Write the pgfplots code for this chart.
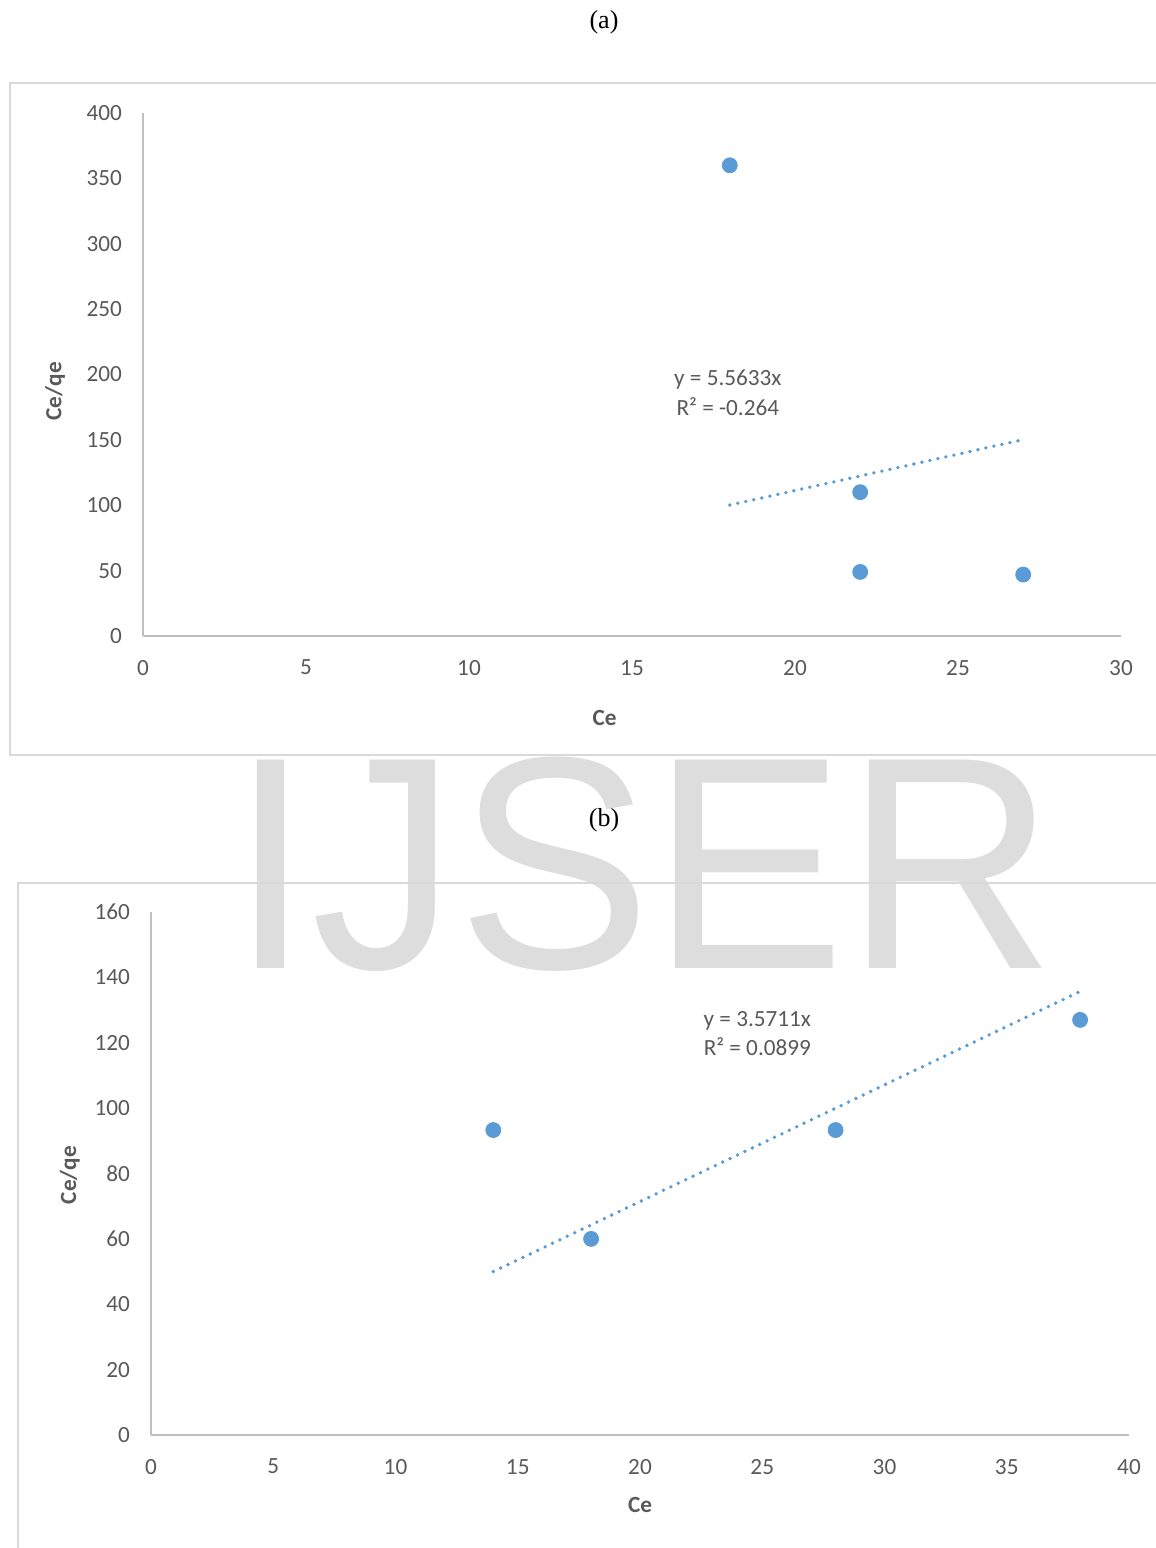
\documentclass[border=0pt]{standalone}
\usepackage{pgfplots}
\pgfplotsset{compat=1.18}
\usepackage{fontspec}
\setmainfont{Carlito}
\newfontfamily\timesf{Liberation Serif}
\newfontfamily\arialf{Liberation Sans}
\definecolor{ptblue}{HTML}{5B9BD5}
\definecolor{axgray}{HTML}{BFBFBF}
\definecolor{frgray}{HTML}{D9D9D9}
\definecolor{txgray}{HTML}{595959}
\definecolor{wmgray}{HTML}{DDDDDD}
\def\u{0.5pt}
\pgfplotsset{
  common/.style={
    scale only axis, width=978*\u, height=523*\u,
    axis lines=left, axis line style={draw=axgray, line width=0.9pt, -},
    major tick length=0pt,
    tick label style={font=\fontsize{11.6}{14}\selectfont, text=txgray},
    /pgf/number format/assume math mode=true,
    xticklabel style={yshift=-8.5pt},
    yticklabel style={xshift=-7pt},
    label style={font=\fontsize{11.6}{14}\selectfont\bfseries, text=txgray},
    clip=false,
  },
  pts/.style={only marks, mark=*, mark size=3.75pt, mark options={fill=ptblue, draw=ptblue}},
  trend/.style={ptblue, line width=1.9pt, line cap=round, dash pattern=on 0pt off 4.1pt, no marks},
}
\begin{document}
\begin{tikzpicture}
\path[use as bounding box] (0,0) rectangle ({1156*\u},{-1548*\u});
% watermark
\node[anchor=base, text=wmgray, font=\arialf\fontsize{151.5}{153}\selectfont, inner sep=0pt, xscale=0.96] at ({643*\u},{-968*\u}) {IJSER};
% frames
\draw[frgray, line width=0.8pt] ({1156*\u},{-83*\u}) -- ({10*\u},{-83*\u}) -- ({10*\u},{-755*\u}) -- ({1156*\u},{-755*\u});
\draw[frgray, line width=0.8pt] ({1156*\u},{-883*\u}) -- ({18*\u},{-883*\u}) -- ({18*\u},{-1548*\u});
% titles
\node[font=\timesf\fontsize{13}{15}\selectfont] at ({604*\u},{-22*\u}) {(a)};
\node[font=\timesf\fontsize{13}{15}\selectfont] at ({604*\u},{-820*\u}) {(b)};

\begin{axis}[common, at={({143*\u},{-636*\u})}, anchor=south west,
  xmin=0, xmax=30, ymin=0, ymax=400,
  xtick={0,5,...,30}, ytick={0,50,...,400},
  xlabel={Ce}, ylabel={Ce/qe},
  xlabel style={at={(axis description cs:0.472,-0.157)}, anchor=center},
  ylabel style={at={(axis description cs:-0.09,0.468)}, anchor=center, rotate=0},
]
\addplot[trend] coordinates {(18,100.14) (27,150.21)};
\addplot[pts] coordinates {(18,360) (22,110) (22,49) (27,47)};
\node[align=center, font=\fontsize{11.6}{14.6}\selectfont, text=txgray] at (axis cs:17.94,186) {y = 5.5633x\\R² = -0.264};
\end{axis}

\begin{axis}[common, at={({151*\u},{-1435*\u})}, anchor=south west,
  xmin=0, xmax=40, ymin=0, ymax=160,
  xtick={0,5,...,40}, ytick={0,20,...,160},
  xlabel={Ce}, ylabel={Ce/qe},
  xlabel style={at={(axis description cs:0.5,-0.134)}, anchor=center},
  ylabel style={at={(axis description cs:-0.083,0.497)}, anchor=center, rotate=0},
]
\addplot[trend] coordinates {(14,49.995) (38,135.70)};
\addplot[pts] coordinates {(14,93.3) (18,60) (28,93.3) (38,127)};
\node[align=center, font=\fontsize{11.6}{14.6}\selectfont, text=txgray] at (axis cs:24.8,122.8) {y = 3.5711x\\R² = 0.0899};
\end{axis}
\end{tikzpicture}
\end{document}
